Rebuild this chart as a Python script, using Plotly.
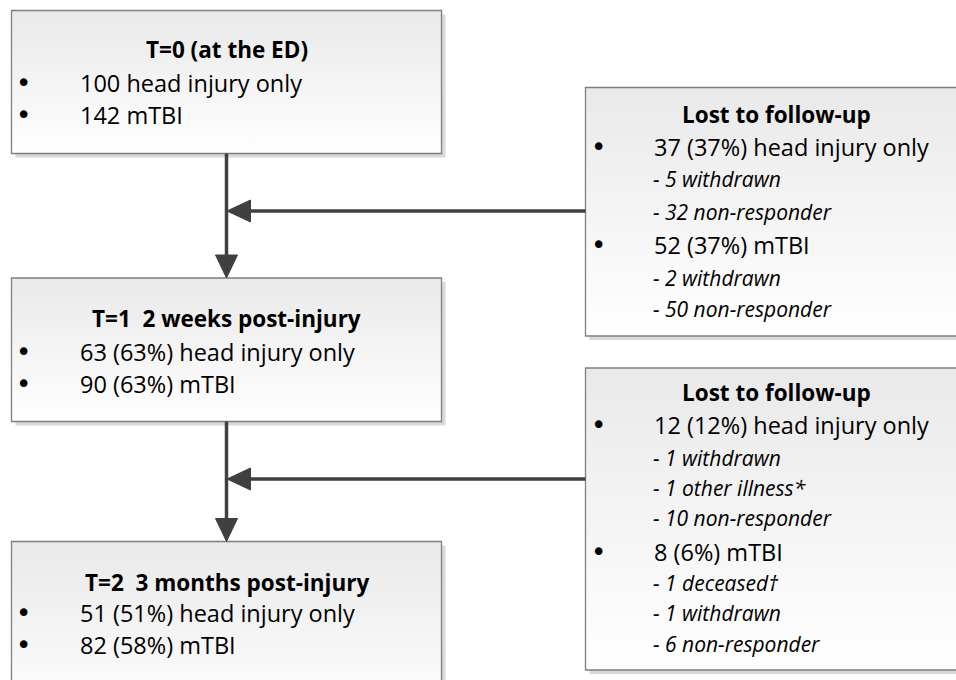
import plotly.graph_objects as go

# ---- Text content ----
stage_titles = ["T=0 (at the ED)", "T=1\u00a0 2 weeks post-injury", "T=2\u00a0 3 months post-injury"]
stage_items = [
    ["100 head injury only", "142 mTBI"],
    ["63 (63%) head injury only", "90 (63%) mTBI"],
    ["51 (51%) head injury only", "82 (58%) mTBI"],
]
lost_title = "Lost to follow-up"
lost1_items = [
    ("bullet", "37 (37%) head injury only"),
    ("sub", "- 5 withdrawn"),
    ("sub", "- 32 non-responder"),
    ("bullet", "52 (37%) mTBI"),
    ("sub", "- 2 withdrawn"),
    ("sub", "- 50 non-responder"),
]
lost2_items = [
    ("bullet", "12 (12%) head injury only"),
    ("sub", "- 1 withdrawn"),
    ("sub", "- 1 other illness*"),
    ("sub", "- 10 non-responder"),
    ("bullet", "8 (6%) mTBI"),
    ("sub", "- 1 deceased\u2020"),
    ("sub", "- 1 withdrawn"),
    ("sub", "- 6 non-responder"),
]

# ---- Layout geometry (pixel space of the page) ----
W, H = 956, 680
stage_boxes = [(11.5, 10.5, 441.5, 153.5), (11.5, 278, 441.5, 421.5), (11.5, 541.5, 441.5, 720)]
stage_title_y = [49, 318, 582]
stage_item_y = [[83, 115], [352, 384], [613, 645]]
lost_boxes = [(585.5, 87.5, 1200, 336), (585.5, 368, 1200, 670)]
lost_title_y = [114, 392]
lost_item_y = [[147, 179, 212, 245, 278, 309], [425, 458, 488, 518, 552, 583, 613, 644]]
arrow_x = 226.5
arrow_h_y = [211, 479]

FONT = "Open Sans, Lato, sans-serif"
BFONT = "DejaVu Sans"
S_MAIN, S_TITLE, S_SUB, S_BUL = 23.5, 22.5, 21, 26
fig = go.Figure()
shapes = []
ann = []

def add_box(x0, y0, x1, y1):
    shapes.append(dict(type="rect", x0=x0 + 4, y0=y0 + 4, x1=x1 + 4, y1=y1 + 4,
                       fillcolor="#d9d9d9", line=dict(width=0), layer="below"))
    fig.add_trace(go.Scatter(
        x=[x0, x1, x1, x0, x0], y=[y0, y0, y1, y1, y0], mode="none",
        fill="toself",
        fillgradient=dict(type="vertical", colorscale=[[0, "#ffffff"], [1, "#e9e9e9"]]),
        hoverinfo="skip", showlegend=False))
    shapes.append(dict(type="rect", x0=x0, y0=y0, x1=x1, y1=y1,
                       line=dict(color="#7f7f7f", width=1.3), fillcolor="rgba(0,0,0,0)"))

for b in stage_boxes:
    add_box(*b)
for b in lost_boxes:
    add_box(*b)

for i, b in enumerate(stage_boxes):
    cx = (b[0] + b[2]) / 2
    ann.append(dict(x=cx, y=stage_title_y[i], text="<b>" + stage_titles[i] + "</b>",
                    xanchor="center", yanchor="middle", showarrow=False,
                    font=dict(size=S_TITLE, family=FONT, color="black")))
    for t, yy in zip(stage_items[i], stage_item_y[i]):
        ann.append(dict(x=23, y=yy, text="\u2022", xanchor="center", yanchor="middle",
                        showarrow=False, font=dict(size=S_BUL, family=BFONT, color="black")))
        ann.append(dict(x=78, y=yy, text=t, xanchor="left", yanchor="middle",
                        showarrow=False, font=dict(size=S_MAIN, family=FONT, color="black")))

for j, (items, ys) in enumerate([(lost1_items, lost_item_y[0]), (lost2_items, lost_item_y[1])]):
    ann.append(dict(x=776, y=lost_title_y[j], text="<b>" + lost_title + "</b>",
                    xanchor="center", yanchor="middle", showarrow=False,
                    font=dict(size=S_TITLE, family=FONT, color="black")))
    for (kind, t), yy in zip(items, ys):
        if kind == "bullet":
            ann.append(dict(x=598, y=yy, text="\u2022", xanchor="center", yanchor="middle",
                            showarrow=False, font=dict(size=S_BUL, family=BFONT, color="black")))
            ann.append(dict(x=652, y=yy, text=t, xanchor="left", yanchor="middle",
                            showarrow=False, font=dict(size=S_MAIN, family=FONT, color="black")))
        else:
            ann.append(dict(x=651, y=yy, text="<i>" + t + "</i>", xanchor="left", yanchor="middle",
                            showarrow=False, font=dict(size=S_SUB, family=FONT, color="black")))

LC = "#404040"
for i in range(2):
    top = stage_boxes[i][3]
    bot = stage_boxes[i + 1][1]
    shapes.append(dict(type="line", x0=arrow_x, y0=top, x1=arrow_x, y1=bot - 18,
                       line=dict(color=LC, width=3.5)))
    shapes.append(dict(type="path",
                       path=f"M {arrow_x-11},{bot-23} L {arrow_x+11},{bot-23} L {arrow_x},{bot} Z",
                       fillcolor=LC, line=dict(color=LC, width=1)))
    hy = arrow_h_y[i]
    shapes.append(dict(type="line", x0=lost_boxes[i][0], y0=hy, x1=arrow_x + 18, y1=hy,
                       line=dict(color=LC, width=3.5)))
    shapes.append(dict(type="path",
                       path=f"M {arrow_x+24},{hy-11} L {arrow_x+24},{hy+11} L {arrow_x+0.5},{hy} Z",
                       fillcolor=LC, line=dict(color=LC, width=1)))

fig.update_layout(
    width=W, height=H, margin=dict(l=0, r=0, t=0, b=0),
    paper_bgcolor="white", plot_bgcolor="white",
    xaxis=dict(range=[0, W], visible=False, fixedrange=True),
    yaxis=dict(range=[H, 0], visible=False, fixedrange=True),
    shapes=shapes, annotations=ann, showlegend=False, hovermode=False,
)
fig.write_html("out.html", config={"displayModeBar": False, "staticPlot": True},
               post_script="document.body.style.margin='0';document.body.style.overflow='hidden';")
